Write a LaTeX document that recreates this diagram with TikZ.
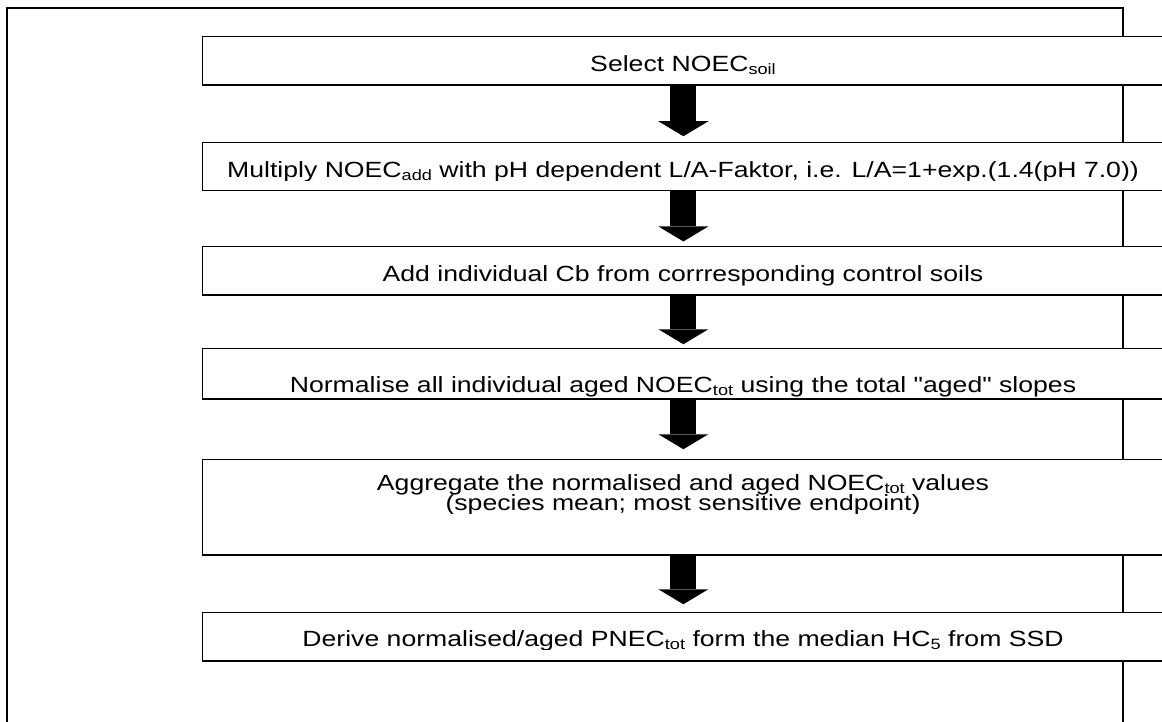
\documentclass[tikz,border=0pt]{standalone}
\usepackage{fontspec}
\newfontfamily\stepfont{Liberation Sans}[FakeStretch=1.21]
\usetikzlibrary{arrows.meta}
% subscript in the running text
\newcommand{\lowtxt}[1]{\raisebox{-1.6pt}{\fontsize{7.5pt}{7.5pt}\selectfont #1}}
\begin{document}
\begin{tikzpicture}[x=0.5pt,y=-0.5pt,
  stepbox/.style={draw=black, fill=white, line width=0.75pt, inner sep=0pt,
    minimum width=480.65pt},
  steptext/.style={anchor=base, inner sep=0pt, font=\stepfont\fontsize{11pt}{9.65pt}\selectfont},
  flowarrow/.style={line width=13pt,
    -{Triangle[width=25pt,length=7.5pt,line width=0pt]}},
  frameline/.style={line width=1.1pt}]
\clip (0,0) rectangle (1162,722);
\fill[white] (0,0) rectangle (1162,722);
% page frame
\draw[frameline] (7.2,740) -- (7.2,7.8) -- (1123,7.8) -- (1123,740);
% process steps
\node[stepbox, minimum height=24.15pt] (b1) at (683.35,60.85) {};
\node[stepbox, minimum height=24pt]    (b2) at (683.35,166.7) {};
\node[stepbox, minimum height=24.15pt] (b3) at (683.35,270.85) {};
\node[stepbox, minimum height=25.35pt] (b4) at (683.35,373.65) {};
\node[stepbox, minimum height=47.85pt] (b5) at (683.35,507.15) {};
\node[stepbox, minimum height=24.15pt] (b6) at (683.35,636.85) {};
% step texts, each line cut off just below its baseline
\begin{scope}
  \clip (203,38) rectangle (1164,74.5);
  \node[steptext] (t1) at (683,71.2) {Select NOEC\lowtxt{soil}};
\end{scope}
\begin{scope}
  \clip (203,144) rectangle (1164,180.3);
  \node[steptext] (t2) at (683,177) {Multiply NOEC\lowtxt{add} with pH dependent L/A-Faktor, i.e. L/A=1+exp.(1.4(pH 7.0))};
\end{scope}
\begin{scope}
  \clip (203,248) rectangle (1164,285);
  \node[steptext] (t3) at (683,281.7) {Add individual Cb from corrresponding control soils};
\end{scope}
\begin{scope}
  \clip (203,350) rectangle (1164,396);
  \node[steptext] (t4) at (683,392.7) {Normalise all individual aged NOEC\lowtxt{tot} using the total "aged" slopes};
\end{scope}
\begin{scope}
  \clip (203,461) rectangle (1164,494);
  \node[steptext] (t5a) at (683,490.7) {Aggregate the normalised and aged NOEC\lowtxt{tot} values};
\end{scope}
\begin{scope}
  \clip (203,494) rectangle (1164,513.3);
  \node[steptext] (t5b) at (683,510) {(species mean; most sensitive endpoint)};
\end{scope}
\begin{scope}
  \clip (203,614) rectangle (1164,649.3);
  \node[steptext] (t6) at (683,646) {Derive normalised/aged PNEC\lowtxt{tot} form the median HC\lowtxt{5} from SSD};
\end{scope}
% block arrows between the steps
\draw[flowarrow] (b1.south) -- ([yshift=2.85pt]b2.north);
\draw[flowarrow] (b2.south) -- ([yshift=2.25pt]b3.north);
\draw[flowarrow] (b3.south) -- ([yshift=1.65pt]b4.north);
\draw[flowarrow] (b4.south) -- ([yshift=4.65pt]b5.north);
\draw[flowarrow] (b5.south) -- ([yshift=3.85pt]b6.north);
\end{tikzpicture}
\end{document}
